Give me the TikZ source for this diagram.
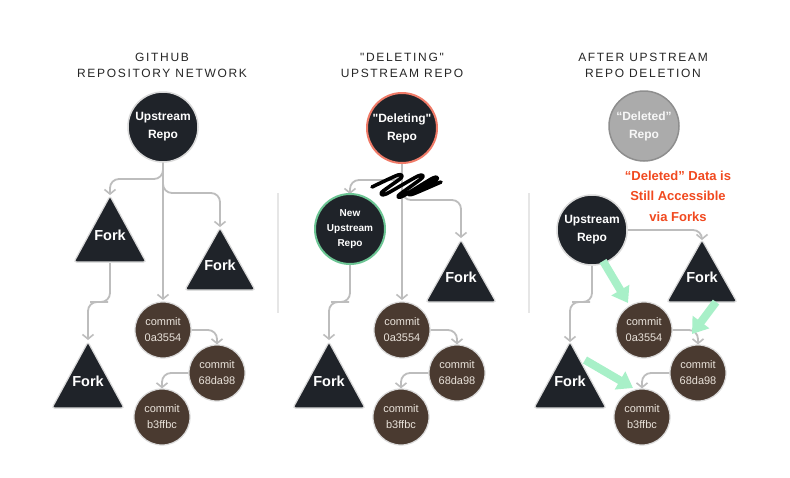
\documentclass[tikz,border=0pt]{standalone}
\usepackage{fontspec}
\setmainfont{Liberation Sans}[Ligatures=TeXOff]
\newfontfamily\titlefont{Liberation Sans}[LetterSpace=14,Ligatures=TeXOff]
\usetikzlibrary{arrows.meta,calc}
\definecolor{dark}{HTML}{1F2329}
\definecolor{halo}{HTML}{DADADA}
\definecolor{cbrown}{HTML}{4A3A30}
\definecolor{ctext}{HTML}{EAE3DB}
\definecolor{arrgray}{HTML}{BDBDBD}
\definecolor{redline}{HTML}{F07B68}
\definecolor{greenline}{HTML}{6CC594}
\definecolor{delfill}{HTML}{ABABAB}
\definecolor{deldraw}{HTML}{8E8E8E}
\definecolor{redtext}{HTML}{F1491F}
\definecolor{mint}{HTML}{A8F0C8}
\definecolor{sepgray}{HTML}{E6E6E6}
\newcommand\forkshape[5]{% name, apex x, apex y, half width, height
  \fill[dark, draw=halo, line width=1.2, rounded corners=2.5]
    (#2,#3) -- (#2+#4,#3+#5) -- (#2-#4,#3+#5) -- cycle;
  \node[forktext] (#1) at (#2,#3+0.6*#5) {Fork};
  \coordinate (#1t) at (#2,#3);
  \coordinate (#1b) at (#2,#3+#5);
}
\begin{document}
\begin{tikzpicture}[x=1pt,y=-1pt,
  repo/.style={circle, minimum size=70, inner sep=0, fill=dark, draw=halo,
    line width=1.5, text=white, align=center,
    font=\fontsize{12}{18}\selectfont\bfseries},
  commit/.style={circle, minimum size=56, inner sep=0, fill=cbrown, draw=halo,
    line width=1.2, text=ctext, align=center,
    font=\fontsize{11}{16}\selectfont},
  forktext/.style={text=white, font=\fontsize{14.5}{16}\selectfont\bfseries, inner sep=0},
  arr/.style={draw=arrgray, line width=1.8, rounded corners=9,
    -{Straight Barb[length=4.5,width=11,line width=1.6]}},
  garr/.style={draw=mint, line width=8, -{Triangle[length=15,width=20]}},
  sep/.style={draw=sepgray, line width=2.5},
  ttl/.style={align=center, text=black!85, font=\titlefont\fontsize{12}{16}\selectfont},
]
\useasboundingbox[fill=white] (0,0) rectangle (790,477);

% titles
\node[ttl] (t1) at (162,65) {GITHUB\\REPOSITORY NETWORK};
\node[ttl] (t2) at (402,65) {"DELETING"\\UPSTREAM REPO};
\node[ttl] (t3) at (643,65) {AFTER UPSTREAM\\REPO DELETION};

% separators
\coordinate (s1a) at (278,193); \coordinate (s1b) at (278,313);
\coordinate (s2a) at (529,193); \coordinate (s2b) at (529,313);
\draw[sep] (s1a) -- (s1b);
\draw[sep] (s2a) -- (s2b);

% ---------- panel 1 ----------
\draw[arr] (163,160) |- (110,179) -- (110,195);
\draw[arr] (163,160) |- (220,193) -- (220,227);
\draw[arr] (163,160) -- (163,300);
\draw[arr] (110,263) |- (99,302) -| (88,340);
\forkshape{f1}{110}{196}{36}{66}
\forkshape{f2}{220}{228}{35}{62}
\forkshape{f3}{88}{342}{36}{66}
\node[repo] (up1) at (163,127) {Upstream\\Repo};
\node[commit] (c11) at (163,330) {commit\\0a3554};
\node[commit] (c12) at (217,373) {commit\\68da98};
\node[commit] (c13) at (162,417) {commit\\b3ffbc};
\draw[arr] (c11.east) -| (c12.north);
\draw[arr] (c12.west) -| (c13.north);

% ---------- panel 2 ----------
\draw[arr] (402,162) |- (350,180) -- (350,194);
\draw[arr] (402,162) |- (461,200) -- (461,238);
\draw[arr] (402,162) -- (402,300);
\draw[arr] (350,263) |- (340,302) -| (329,340);
\forkshape{f22}{461}{240}{35}{62}
\forkshape{f23}{329}{342}{36}{66}
\node[repo, draw=redline, line width=2] (del) at (402,128) {"Deleting"\\Repo};
\node[repo, draw=greenline, line width=2, font=\fontsize{10}{15}\selectfont\bfseries] (nu) at (350,229) {New\\Upstream\\Repo};
\node[commit] (c21) at (402,330) {commit\\0a3554};
\node[commit] (c22) at (457,373) {commit\\68da98};
\node[commit] (c23) at (401,417) {commit\\b3ffbc};
\draw[arr] (c21.east) -| (c22.north);
\draw[arr] (c22.west) -| (c23.north);
% scribble
\draw[black, line width=3.6, line cap=round, line join=round]
  plot[smooth, tension=0.45] coordinates {(372,187) (398,175) (401,178) (382,192) (386,194)
  (418,176) (422,178) (399,195) (403,196) (433,178) (436,180) (410,193) (413,194) (441,182)};

% ---------- panel 3 ----------
\forkshape{f32}{702}{240}{35}{62}
\forkshape{f33}{570}{342}{36}{66}
\node[repo, fill=delfill, draw=deldraw, text=white!94!gray] (dl) at (644,126) {“Deleted”\\Repo};
\node[align=center, text=redtext, font=\fontsize{13}{20.5}\selectfont\bfseries] (note) at (678,196)
  {“Deleted” Data is\\Still Accessible\\via Forks};
\node[repo] (up3) at (592,230) {Upstream\\Repo};
\draw[arr] (up3.east) -| (f32t);
\draw[arr] (up3.south) |- (581,302) -| (f33t);
\node[commit] (c31) at (644,330) {commit\\0a3554};
\node[commit] (c32) at (698,373) {commit\\68da98};
\node[commit] (c33) at (642,417) {commit\\b3ffbc};
\draw[arr] (c31.east) -| (c32.north);
\draw[arr] (c32.west) -| (c33.north);
% green arrows
\coordinate (g1s) at (603,261); \coordinate (g1e) at (628,303);
\coordinate (g2s) at (716,302); \coordinate (g2e) at (692,334);
\coordinate (g3s) at (585,360); \coordinate (g3e) at (633,388);
\draw[garr] (g1s) -- (g1e);
\draw[garr] (g2s) -- (g2e);
\draw[garr] (g3s) -- (g3e);
\end{tikzpicture}
\end{document}
